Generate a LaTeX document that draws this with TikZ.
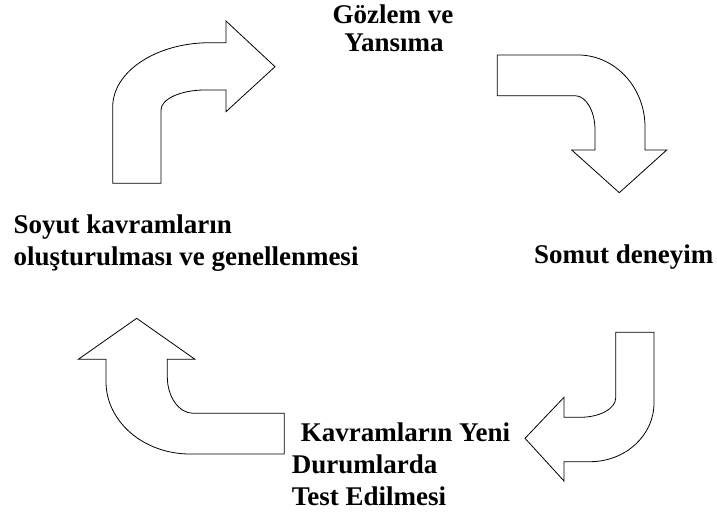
\documentclass[tikz,border=0pt]{standalone}
\usepackage{fontspec}
\setmainfont{Liberation Serif}
\begin{document}
\begin{tikzpicture}[x=1pt,y=-1pt,
  bent/.style={draw=black,fill=white,line width=0.8pt,line join=miter},
  lbl/.style={inner sep=0pt,font=\fontsize{27}{31}\selectfont\bfseries}]
\useasboundingbox (0,0) rectangle (717,516);

% upper left: bends up and points right
\draw[bent] (112.7,183.3) -- (112.7,107)
  .. controls (112.7,71.5) and (156.3,42.7) .. (210,42.7)
  -- (226,42.7) -- (226,21) -- (275,66.7) -- (226,111.7) -- (226,90) -- (205,90)
  .. controls (180.7,90) and (161,99) .. (161,110)
  -- (161,183.3) -- cycle;

% upper right: bends down and points down
\draw[bent] (497.3,55) -- (578,55)
  .. controls (615,55) and (645,87.3) .. (645,127)
  -- (645,150) -- (666.7,150) -- (619.3,192.7) -- (571.7,150) -- (595,150) -- (595,130)
  .. controls (595,111) and (586,95.7) .. (575,95.7)
  -- (497.3,95.7) -- cycle;

% lower right: hook pointing left
\draw[bent] (615.7,332.3) -- (654,332.3) -- (654,403)
  .. controls (654,435.6) and (625.3,461.7) .. (590,461.7)
  -- (564,461.7) -- (564,481) -- (525,438.3) -- (564,397.3) -- (564,417.3) -- (580,417.3)
  .. controls (599.7,417.3) and (615.7,408.7) .. (615.7,398)
  -- cycle;

% lower left: bends up and points up
\draw[bent] (284.3,454) -- (190,454)
  .. controls (143.6,454) and (106,421.6) .. (106,381.7)
  -- (106,359.3) -- (78.3,359.3) -- (136.7,318.3) -- (195,359.3) -- (167.3,359.3) -- (167.3,376.7)
  .. controls (167.3,396.9) and (178.9,413.3) .. (193.3,413.3)
  -- (284.3,413.3) -- cycle;

% stage labels
\node[lbl,anchor=base] (obs1) at (393,24) {Gözlem ve};
\node[lbl,anchor=base] (obs2) at (394,52) {Yansıma};
\node[lbl,anchor=base west] (abs1) at (13.3,233) {Soyut kavramların};
\node[lbl,anchor=base west] (abs2) at (13.3,265) {oluşturulması ve genellenmesi};
\node[lbl,anchor=base west] (conc) at (534,263) {Somut deneyim};
\node[lbl,anchor=base west] (test1) at (300.7,441.7) {Kavramların Yeni};
\node[lbl,anchor=base west] (test2) at (291.7,473) {Durumlarda};
\node[lbl,anchor=base west] (test3) at (291.7,505) {Test Edilmesi};
\end{tikzpicture}
\end{document}
